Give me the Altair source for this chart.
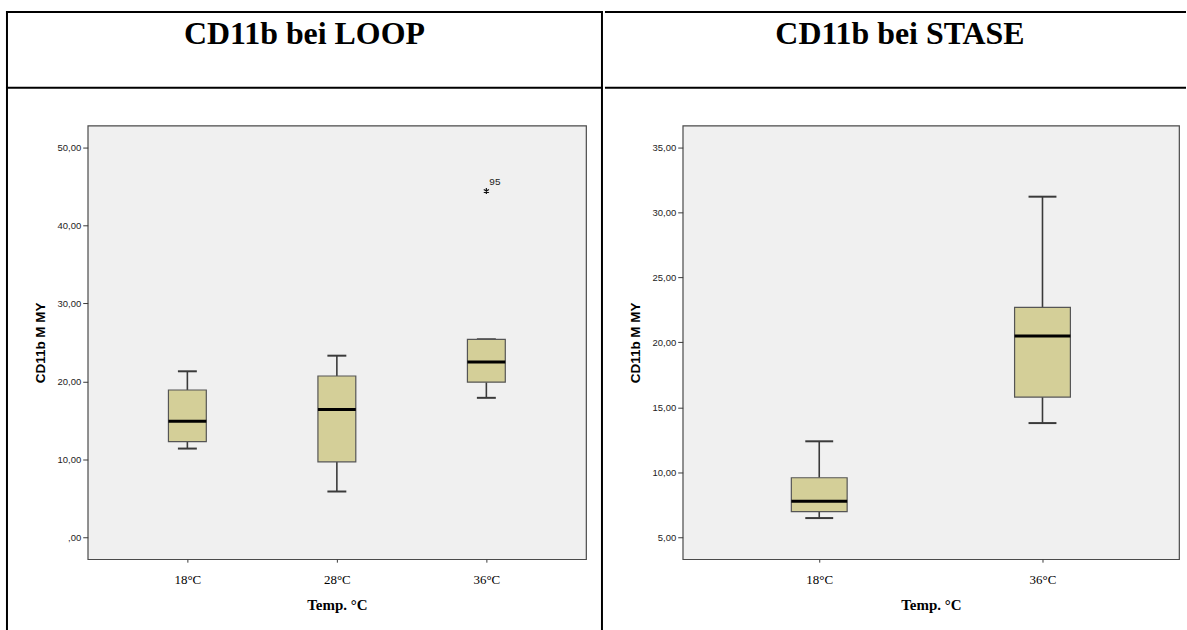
import altair as alt
import pandas as pd

# ---------------- data ----------------
loop_title = "CD11b bei LOOP"
stase_title = "CD11b bei STASE"
y_title = "CD11b M MY"
x_title = "Temp. °C"

loop_temps = ["18°C", "28°C", "36°C"]
loop_min = [11.4, 5.9, 17.9]
loop_q1 = [12.3, 9.7, 19.9]
loop_med = [14.9, 16.4, 22.5]
loop_q3 = [18.9, 20.7, 25.4]
loop_max = [21.3, 23.3, 25.4]
loop_out_temp = ["36°C"]
loop_out_val = [44.4]
loop_out_case = ["95"]

stase_temps = ["18°C", "36°C"]
stase_min = [6.5, 13.8]
stase_q1 = [7.0, 15.8]
stase_med = [7.8, 20.5]
stase_q3 = [9.6, 22.7]
stase_max = [12.4, 31.2]

loop_ticks = [0, 10, 20, 30, 40, 50]
stase_ticks = [5, 10, 15, 20, 25, 30, 35]

BOX_FILL = "#D4CF98"
LINE = "#3a3a3a"
LABEL_EXPR = "datum.value == 0 ? ',00' : replace(format(datum.value, '.2f'), '.', ',')"


def panel(temps, mn, q1, med, q3, mx, ticks, domain, width, pad, box_w, cap_w,
          title, title_x, lines, out=None):
    df = pd.DataFrame({"t": temps, "mn": mn, "q1": q1, "med": med, "q3": q3, "mx": mx})
    H = 435
    xs = alt.Scale(type="point", domain=temps, padding=pad)
    ys = alt.Scale(domain=domain, nice=False, zero=False)
    xax = alt.Axis(title=x_title, labelAngle=0, labelFont="Liberation Serif", labelFontSize=13,
                   labelColor="black", labelBaseline="alphabetic", labelPadding=21,
                   tickSize=3, tickColor=LINE, domain=False, grid=False,
                   titleFont="Liberation Serif", titleFontSize=15, titleFontWeight="bold",
                   titleColor="black", titleBaseline="alphabetic", titleY=50, titleX=width / 2)
    yax = alt.Axis(title=y_title, values=ticks, labelExpr=LABEL_EXPR, labelFont="Liberation Sans",
                   labelFontSize=9.5, labelColor="#222", labelPadding=2, tickSize=5, tickColor=LINE,
                   domain=False, grid=False, titleFont="Liberation Sans", titleFontSize=13.5,
                   titleFontWeight="bold", titleColor="black", titleAngle=270,
                   titleX=-47, titleY=H / 2, titleBaseline="middle", titleAlign="center")
    base = alt.Chart(df)
    x = alt.X("t:N", scale=xs, axis=xax, sort=temps)
    whisk_lo = base.mark_rule(color=LINE, strokeWidth=1.6, opacity=1).encode(
        x=x, y=alt.Y("mn:Q", scale=ys, axis=yax), y2="q1:Q")
    whisk_hi = base.mark_rule(color=LINE, strokeWidth=1.6, opacity=1).encode(x=x, y="q3:Q", y2="mx:Q")
    cap_lo = base.mark_tick(color=LINE, thickness=2, size=cap_w, opacity=1).encode(x=x, y="mn:Q")
    cap_hi = base.mark_tick(color=LINE, thickness=2, size=cap_w, opacity=1).encode(x=x, y="mx:Q")
    box = base.mark_bar(size=box_w, fill=BOX_FILL, stroke="#555", strokeWidth=1.2, opacity=1).encode(
        x=x, y="q1:Q", y2="q3:Q")
    median = base.mark_tick(color="black", thickness=3, size=box_w, opacity=1).encode(x=x, y="med:Q")
    layers = [whisk_lo, whisk_hi, cap_lo, cap_hi, box, median]
    if out is not None:
        odf = pd.DataFrame({"t": out[0], "v": out[1], "c": out[2]})
        ob = alt.Chart(odf)
        layers.append(ob.mark_point(
            shape="M0,-1L0,1M-0.87,-0.5L0.87,0.5M-0.87,0.5L0.87,-0.5",
            size=36, filled=False, stroke="#111", strokeWidth=1.2, opacity=1).encode(x=x, y="v:Q"))
        layers.append(ob.mark_text(align="left", baseline="alphabetic", dx=3, dy=-6,
                                   font="Liberation Sans", fontSize=10, color="#222").encode(
            x=x, y="v:Q", text="c:N"))
    # table lines (cell borders) as filled rectangles
    one = alt.Chart(pd.DataFrame({"k": [0]}))
    for (x1, x2, y1, y2) in lines:
        layers.append(one.mark_rect(fill="black", strokeWidth=0, opacity=1).encode(
            x=alt.value(x1), x2=alt.value(x2), y=alt.value(y1), y2=alt.value(y2)))
    layers.append(one.mark_text(font="Liberation Serif", fontSize=32, fontWeight="bold",
                                align="center", baseline="alphabetic", color="black").encode(
        x=alt.value(title_x), y=alt.value(-82), text=alt.value(title)))
    return alt.layer(*layers).properties(width=width, height=H)


left_lines = [
    (-82, -80, -115, 506),   # left border
    (515, 517, -115, 506),   # middle divider
    (-82, 517, -115, -113),  # top border
    (-82, 517, -39, -37),    # header divider
]
right_lines = [
    (-78, 505, -115, -113),
    (-78, 505, -39, -37),
]

left = panel(loop_temps, loop_min, loop_q1, loop_med, loop_q3, loop_max, loop_ticks,
             [-2.77, 52.77], 500, 0.6667, 38, 19, loop_title, 217.5, left_lines,
             out=(loop_out_temp, loop_out_val, loop_out_case))
right = panel(stase_temps, stase_min, stase_q1, stase_med, stase_q3, stase_max, stase_ticks,
              [3.34, 36.66], 498, 0.6116, 56, 28, stase_title, 218, right_lines)

chart = alt.hconcat(left, right, spacing=0).properties(
    padding={"left": 5, "top": 9, "right": 0, "bottom": 0},
    background="white",
).configure_view(fill="#F0F0F0", stroke="#4a4a4a", strokeWidth=1.2)

chart.save("out.html", embed_options={"renderer": "svg", "actions": False})
